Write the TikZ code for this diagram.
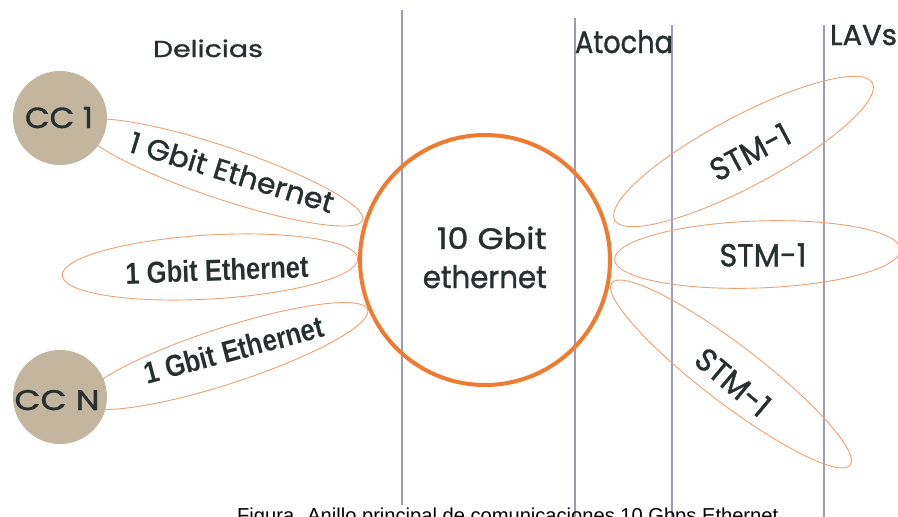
\documentclass[tikz,border=0pt]{standalone}
\usepackage{fontspec}
\usepackage{graphicx}
\setmainfont{Poppins}[FakeBold=1.2]
\newfontfamily\arialf{Liberation Sans}
\usetikzlibrary{shapes.geometric}
\definecolor{tanc}{HTML}{C3B59E}
\definecolor{txtc}{HTML}{27302F}
\definecolor{ringc}{HTML}{EE7B30}
\definecolor{petalc}{HTML}{E9A276}
\definecolor{vlinec}{HTML}{9C9CB8}
\newcommand\fitwh[3]{\resizebox{#1}{#2}{#3}}
\newcommand\fitw[2]{\resizebox{#1}{!}{#2}}
\begin{document}
\begin{tikzpicture}[x=1pt,y=-1pt,
  lbl/.style={inner sep=0pt, text=txtc},
  petalshape/.style={draw=petalc, line width=0.9pt, ellipse, inner sep=0pt},
  sepline/.style={draw=vlinec, line width=1.1pt},
  cc/.style={circle, fill=tanc, minimum size=94pt, inner sep=0pt},
]
\useasboundingbox (0,0) rectangle (898,517);
\clip (0,0) rectangle (898,517);
% vertical separators
\coordinate (v1t) at (402,10);  \coordinate (v1b) at (402,505);
\coordinate (v2t) at (575,18);  \coordinate (v2b) at (575,517);
\coordinate (v3t) at (672,25);  \coordinate (v3b) at (672,517);
\coordinate (v4t) at (824,25);  \coordinate (v4b) at (824,517);
\draw[sepline] (v1t) -- (v1b);
\draw[sepline] (v2t) -- (v2b);
\draw[sepline] (v3t) -- (v3b);
\draw[sepline] (v4t) -- (v4b);
% petals
\node[petalshape, minimum width=298pt, minimum height=52pt, rotate=-18.6] (p1) at (221.5,172.5) {};
\node[petalshape, minimum width=296pt, minimum height=64pt, rotate=3.3] (p2) at (210,267) {};
\node[petalshape, minimum width=300pt, minimum height=56pt, rotate=18] (p3) at (225,356) {};
\node[petalshape, minimum width=292pt, minimum height=70pt, rotate=28] (p4) at (743.5,151.5) {};
\node[petalshape, minimum width=286pt, minimum height=67pt, rotate=2] (p5) at (757.5,254.5) {};
\node[petalshape, minimum width=300pt, minimum height=58pt, rotate=-37.4] (p6) at (731,374) {};
% central ring
\node[circle, draw=ringc, line width=4pt, minimum size=250pt, inner sep=0pt] (ring) at (485,260) {};
% CC circles
\node[cc] (cc1) at (60,118) {};
\node[cc] (ccn) at (60,397) {};
% labels
\node[lbl, anchor=base] (del) at (208,57) {\fitwh{110pt}{17.5pt}{Delicias}};
\node[lbl, anchor=base] (ato) at (624,53) {\fitwh{98pt}{23pt}{Atocha}};
\node[lbl, anchor=base] (lav) at (863.5,45) {\fitwh{67pt}{20pt}{LAVs}};
\node[lbl, anchor=base] (cc1t) at (59,128) {\fitwh{68pt}{21pt}{CC 1}};
\node[lbl, anchor=base] (ccnt) at (57,410) {\fitwh{85pt}{20pt}{CC N}};
\node[lbl, anchor=base east] (ten) at (547,249) {\fitwh{110pt}{22.5pt}{10 Gbit}};
\node[lbl, anchor=base east] (eth) at (547,288) {\fitwh{124pt}{23pt}{ethernet}};
\node[lbl, rotate=-17] (t1) at (232,172) {\fitwh{212pt}{22pt}{1 Gbit Ethernet}};
\node[lbl, rotate=2] (t2) at (217,270) {\fitwh{183pt}{22pt}{\arialf\bfseries 1 Gbit Ethernet}};
\node[lbl, rotate=15] (t3) at (234,350) {\fitwh{185pt}{22pt}{\arialf\bfseries 1 Gbit Ethernet}};
\node[lbl, rotate=28] (s1) at (750,152) {\fitwh{86pt}{23pt}{STM-1}};
\node[lbl] (s2) at (763,255) {\fitwh{87pt}{23pt}{STM-1}};
\node[lbl, rotate=-40] (s3) at (733,382) {\fitwh{87pt}{23pt}{STM-1}};
% caption (cut by the lower edge)
\node[inner sep=0pt, anchor=north west, text=black] (cap) at (237,507.5) {\fitw{541pt}{\arialf Figura. Anillo principal de comunicaciones 10 Gbps Ethernet}};
\end{tikzpicture}
\end{document}
